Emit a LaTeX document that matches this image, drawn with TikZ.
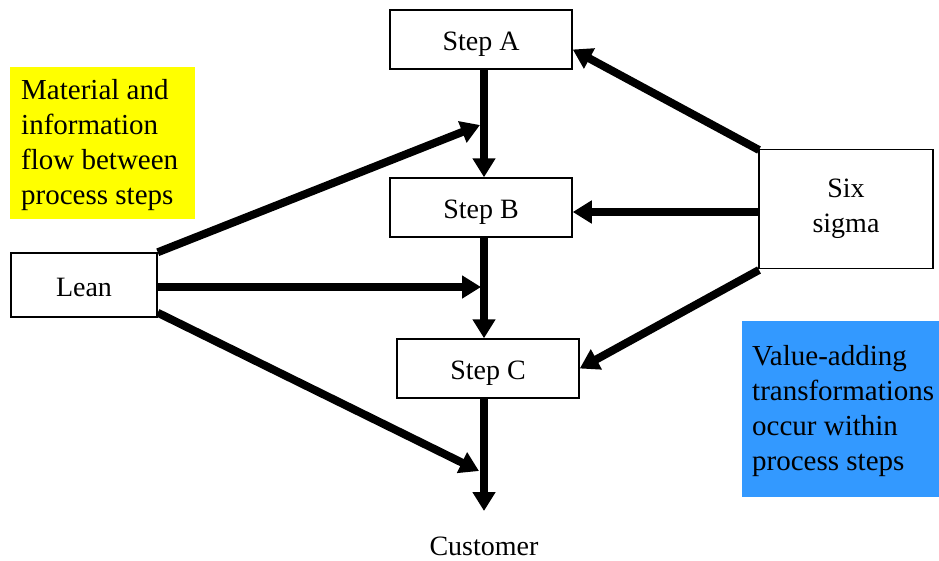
\documentclass[tikz,border=0pt]{standalone}
\usepackage{fontspec}
\setmainfont{Liberation Serif}
\usetikzlibrary{arrows.meta}
\definecolor{noteyellow}{HTML}{FFFF00}
\definecolor{noteblue}{HTML}{3399FF}
\begin{document}
\begin{tikzpicture}[x=1pt,y=-1pt,
  box/.style={draw, line width=1.5pt, fill=white, inner sep=0pt, font=\fontsize{28}{35}\selectfont, align=center},
  onebox/.style={box, text depth=0pt, text height=22pt},
  flow/.style={line width=8pt, -{Triangle[length=19pt,width=22pt]}},
  notetext/.style={inner sep=0pt, anchor=north west, align=left, font=\fontsize{29}{35}\selectfont}]
\useasboundingbox (0,0) rectangle (939,560);
% notes
\fill[noteyellow] (10,67) rectangle (195,219);
\node[notetext] (yt) at (21,79) {Material and\\information\\flow between\\process steps};
\fill[noteblue] (742,321) rectangle (939,497);
\node[notetext] (bt) at (752,345) {Value-adding\\transformations\\occur within\\process steps};
% boxes
\node[onebox, minimum width=182pt, minimum height=59pt] (A) at (481,39.5) {Step A};
\node[onebox, minimum width=182pt, minimum height=59pt] (B) at (481,207.5) {Step B};
\node[onebox, minimum width=182pt, minimum height=59pt] (C) at (488,368.5) {Step C};
\node[onebox, minimum width=146pt, minimum height=64pt] (L) at (84,285) {Lean};
\node[box, minimum width=174pt, minimum height=119pt] (S) at (846,209) {Six\\sigma};
\node[font=\fontsize{28}{35}\selectfont, inner sep=0pt] (cust) at (484,546) {Customer};
% coordinates
\coordinate (endc) at (484,511);
\coordinate (l1) at (480,125);
\coordinate (l2) at (481,287);
\coordinate (l3) at (479,471);
\coordinate (s1) at (759,150);
\coordinate (s2) at (759,212);
\coordinate (s3) at (759,270);
% vertical flow
\draw[flow] ([xshift=3pt]A.south) -- ([xshift=3pt]B.north);
\draw[flow] ([xshift=3pt]B.south) -- ([xshift=-4pt]C.north);
\draw[flow] ([xshift=-4pt]C.south) -- (endc);
% lean
\draw[flow] (L.north east) -- (l1);
\draw[flow] ([yshift=-2pt]L.east) -- (l2);
\draw[flow] ([yshift=5pt]L.south east) -- (l3);
% six sigma
\draw[flow] (s1) -- ([yshift=-10pt]A.east);
\draw[flow] (s2) -- (s2 -| B.east);
\draw[flow] (s3) -- (C.east);
\end{tikzpicture}
\end{document}
